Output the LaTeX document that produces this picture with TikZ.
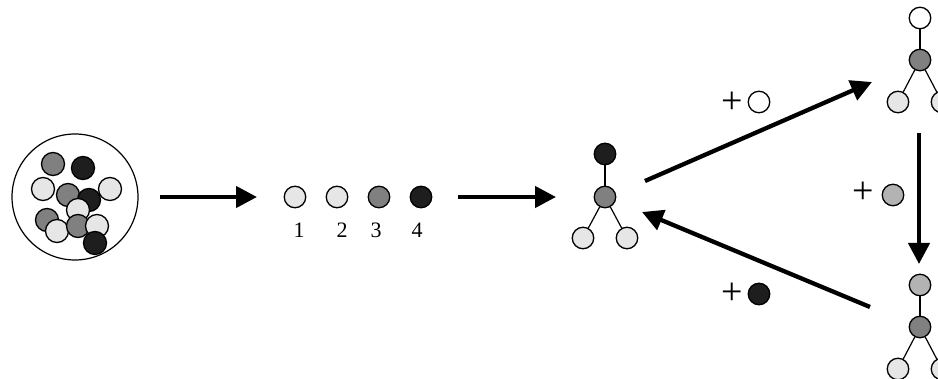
\documentclass[tikz,border=0pt]{standalone}
\usepackage{fontspec}
\setmainfont{Liberation Serif}
\newfontfamily\plusfont{Liberation Serif}
\usetikzlibrary{arrows.meta}
\definecolor{ballL}{HTML}{E6E6E6}
\definecolor{ballG}{HTML}{808080}
\definecolor{ballD}{HTML}{1E1E1E}
\definecolor{ballM}{HTML}{B3B3B3}
\begin{document}
\begin{tikzpicture}[x=1pt,y=-1pt,
  ball/.style={circle,draw=black,line width=1.3pt,minimum size=21.5pt,inner sep=0pt},
  lb/.style={ball,fill=ballL},
  gb/.style={ball,fill=ballG},
  db/.style={ball,fill=ballD},
  mb/.style={ball,fill=ballM},
  wb/.style={ball,fill=white},
  poolball/.style={minimum size=23pt},
  edge/.style={line width=1.2pt},
  bigarrow/.style={line width=4.3pt,-{Triangle[length=21pt,width=21pt]}},
  numlabel/.style={inner sep=0pt,font=\fontsize{22}{22}\selectfont},
  pluslabel/.style={inner sep=0pt,font=\plusfont\fontsize{38}{38}\selectfont}]
\useasboundingbox (0,0) rectangle (938,379);
\clip (0,0) rectangle (938,379);
% cut-off text at the top
\node[anchor=base west,inner sep=0pt,font=\itshape\fontsize{22}{22}\selectfont] (ty1) at (157,-4.5) {y};
\node[anchor=base west,inner sep=0pt,font=\itshape\fontsize{22}{22}\selectfont] (ty2) at (208,-4.5) {y};
% pool
\node[circle,draw=black,line width=1.2pt,minimum size=126pt,inner sep=0pt] (pool) at (75,197) {};
\node[gb,poolball] (p1) at (53,164) {};
\node[db,poolball] (p2) at (83,168) {};
\node[lb,poolball] (p3) at (43,189) {};
\node[gb,poolball] (p4) at (68,195) {};
\node[db,poolball] (p5) at (89,200) {};
\node[lb,poolball] (p6) at (110,189) {};
\node[lb,poolball] (p7) at (78,210) {};
\node[gb,poolball] (p8) at (47,220) {};
\node[lb,poolball] (p9) at (57,231) {};
\node[gb,poolball] (p10) at (78,226) {};
\node[lb,poolball] (p11) at (97,226) {};
\node[db,poolball] (p12) at (95,243) {};
% row of four
\node[lb] (b1) at (295,197) {};
\node[lb] (b2) at (337,197) {};
\node[gb] (b3) at (379,197) {};
\node[db] (b4) at (421,197) {};
\node[numlabel] (n1) at (299,230) {1};
\node[numlabel] (n2) at (342,230) {2};
\node[numlabel] (n3) at (376,230) {3};
\node[numlabel] (n4) at (417,230) {4};
% centre tree
\node[db] (ct) at (605,154) {};
\node[gb] (cm) at (605,197) {};
\node[lb] (cl) at (583,238) {};
\node[lb] (cr) at (627,238) {};
\draw[edge] (cm) -- (ct);
\draw[edge] (cm) -- (cl);
\draw[edge] (cm) -- (cr);
% top-right tree
\node[wb] (rt) at (920,18) {};
\node[gb] (rm) at (920,60) {};
\node[lb] (rl) at (898,102) {};
\node[lb] (rr) at (942,102) {};
\draw[edge] (rm) -- (rt);
\draw[edge] (rm) -- (rl);
\draw[edge] (rm) -- (rr);
% bottom-right tree
\node[mb] (st) at (920,285) {};
\node[gb] (sm) at (920,327) {};
\node[lb] (sl) at (898,369) {};
\node[lb] (sr) at (942,369) {};
\draw[edge] (sm) -- (st);
\draw[edge] (sm) -- (sl);
\draw[edge] (sm) -- (sr);
% arrows
\coordinate (a1s) at (160,197);
\coordinate (a1e) at (257,197);
\coordinate (a2s) at (458,197);
\coordinate (a2e) at (556,197);
\coordinate (a3s) at (645,181);
\coordinate (a3e) at (872,82);
\coordinate (a4s) at (919,133);
\coordinate (a4e) at (919,264);
\coordinate (a5s) at (870,307);
\coordinate (a5e) at (642,212);
\draw[bigarrow] (a1s) -- (a1e);
\draw[bigarrow] (a2s) -- (a2e);
\draw[bigarrow] (a3s) -- (a3e);
\draw[bigarrow] (a4s) -- (a4e);
\draw[bigarrow] (a5s) -- (a5e);
% plus labels
\node[pluslabel] (pl1) at (732,103) {+};
\node[wb] (pb1) at (759,102) {};
\node[pluslabel] (pl2) at (863,193) {+};
\node[mb] (pb2) at (893,195) {};
\node[pluslabel] (pl3) at (732,294) {+};
\node[db] (pb3) at (759,294) {};
\end{tikzpicture}
\end{document}
